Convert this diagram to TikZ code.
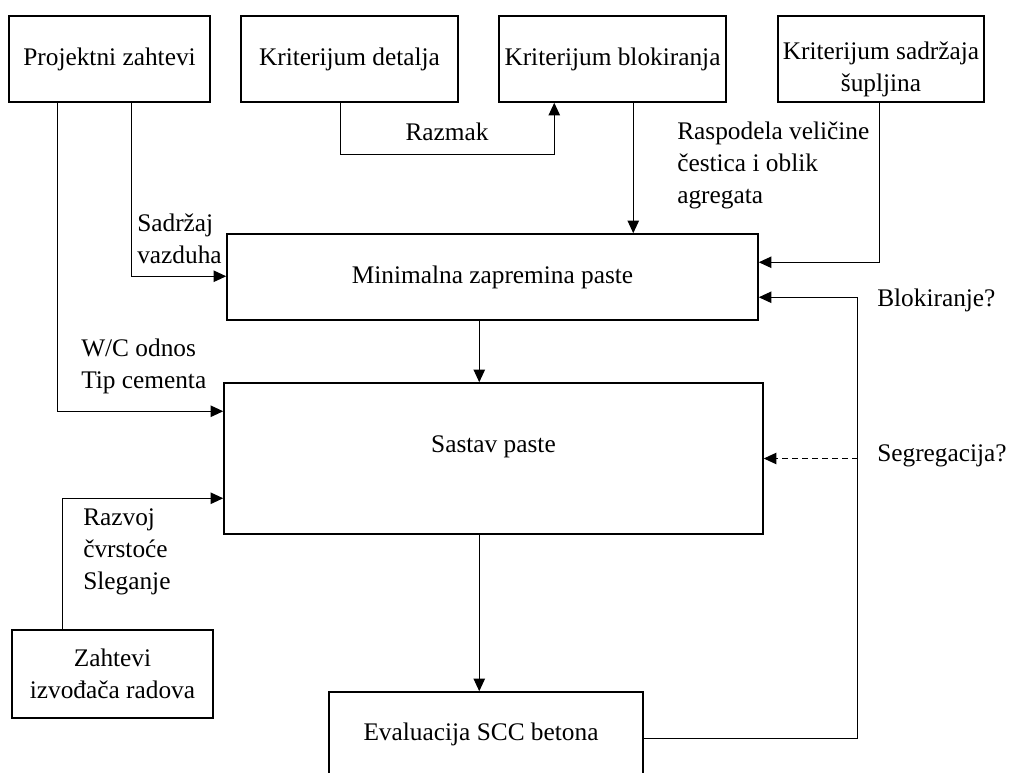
\documentclass[tikz,border=0pt]{standalone}
\usepackage{fontspec}
\setmainfont{Liberation Serif}
\usetikzlibrary{arrows.meta,calc}
\begin{document}
\begin{tikzpicture}[x=0.75pt,y=-0.75pt,
 txt/.style={font=\fontsize{19}{24}\selectfont},
 box/.style={draw, line width=1.1pt, inner sep=0pt, minimum height=64.5pt, align=center, txt},
 lblc/.style={inner sep=0pt, align=center, txt},
 lbl/.style={inner sep=0pt, align=left, anchor=west, txt},
 arr/.style={line width=1.1pt, -{Triangle[length=9.5pt,width=8.5pt]}}]
\clip (0,0) rectangle (1010,773);
\useasboundingbox (0,0) rectangle (1010,773);
\fill[white] (0,0) rectangle (1010,773);
% boxes
\node[box, minimum width=150.75pt] (pz) at (109.5,59) {Projektni zahtevi};
\node[box, minimum width=162.75pt] (kd) at (349.5,59) {Kriterijum detalja};
\node[box, minimum width=170.25pt] (kb) at (612.5,59) {Kriterijum blokiranja};
\node[box, minimum width=154.5pt, label={[lblc, yshift=-7.5pt]center:{Kriterijum sadržaja\\šupljina}}] (ks) at (881,59) {};
\node[box, minimum width=398.25pt] (mz) at (492.5,277) {Minimalna zapremina paste};
\node[box, minimum width=404.25pt, minimum height=113.25pt, label={[lblc, yshift=8.6pt]center:{Sastav paste}}] (sp) at (493.5,458.5) {};
\node[box, minimum width=150.75pt, minimum height=66pt] (zi) at (112.5,674) {Zahtevi\\izvođača radova};
\node[box, minimum width=235.5pt, minimum height=63pt, label={[lblc, xshift=-3.75pt]center:{Evaluacija SCC betona}}] (ev) at (486,734) {};
% labels
\node[lbl] (l1) at (137,239) {Sadržaj\\vazduha};
\node[lblc] (l2) at (447,132) {Razmak};
\node[lbl] (l3) at (677,165) {Raspodela veličine\\čestica i oblik\\agregata};
\node[lbl] (l4) at (877,300) {Blokiranje?};
\node[lbl] (l5) at (877,456) {Segregacija?};
\node[lbl] (l6) at (81,366) {W/C odnos\\Tip cementa};
\node[lbl] (l7) at (83,552) {Razvoj\\čvrstoće\\Sleganje};
% connectors
\draw[arr] ($(pz.south west)+(49,0)$) |- ($(sp.north west)+(0,29)$);
\draw[arr] ($(pz.south west)+(123,0)$) |- ($(mz.north west)+(0,43)$);
\draw[arr] ($(kd.south west)+(100,0)$) -- ++(0,52) -| ($(kb.south west)+(56,0)$);
\draw[arr] ($(kb.south west)+(135,0)$) coordinate (kbo) -- (kbo |- mz.north);
\draw[arr] ($(ks.south west)+(102,0)$) |- ($(mz.north east)+(0,29)$);
\draw[arr] ($(mz.south west)+(253,0)$) coordinate (mzo) -- (mzo |- sp.north);
\draw[arr] ($(sp.south west)+(256,0)$) coordinate (spo) -- (spo |- ev.north);
\draw[arr] ($(ev.north east)+(0,47)$) -- ++(214,0) coordinate (fb) |- ($(mz.north east)+(0,64)$);
\draw[arr, dash pattern=on 4.5pt off 3pt] (fb |- sp.east) -- (sp.east);
\draw[arr] ($(zi.north west)+(51,0)$) |- ($(sp.north west)+(0,116)$);
\end{tikzpicture}
\end{document}
